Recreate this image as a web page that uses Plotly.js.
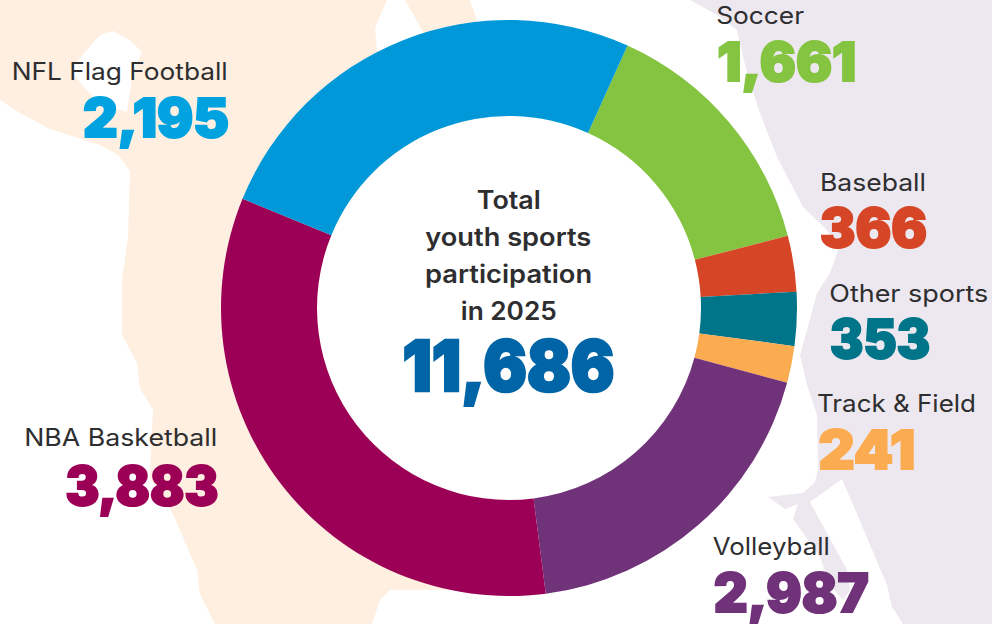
<!DOCTYPE html>
<html><head><meta charset="utf-8">
<script src="https://cdn.plot.ly/plotly-3.0.1.min.js"></script>
<style>html,body{margin:0;padding:0;background:#fff}#c{width:992px;height:624px}</style>
</head><body><div id="c"></div>
<script>
const categories = ["Soccer","Baseball","Other sports","Track & Field","Volleyball","NBA Basketball","NFL Flag Football"];
// printed figures
const printedValues = [1661,366,353,241,2987,3883,2195];
// the ring as drawn in the picture: its Volleyball and NFL Flag Football arcs are swapped against the printed figures
const arcValues = [1661,366,353,241,2195,3883,2987];
const sliceColors = ["#84c441","#d64626","#00758a","#fbab50","#703278","#9c0056","#0098d8"];
const numberColors = ["#84c441","#d64626","#00758a","#fbab50","#703278","#9c0056","#00a3e0"];
const centerLines = ["Total","youth sports","participation","in 2025"];
const totalValue = 11686;
const labelLeft = [716,820,829,817,713,24,11];
const labelW = [88,106,159,159,117,193,216];
const labelY = [15,182,293,403,546,438,71];
const numberLeft = [717,820,830,818,713,65,83];
const numberW = [139,107,100,97,155,153,146];
const numberY = [62,228,339,450,593,486,118];
const centerW = [64,166,167,96];
const centerY = [200,237,274,311];
const W=992,H=624,CX=509,CY=308,R=288,r=192;
const px=x=>x/W, py=y=>1-y/H;
const peach=[[0,0],[387,0],[375,28],[378,60],[430,60],[423,32],[405,0],[470,0],[480,30],[480,590],[390,590],[380,600],[372,624],[215,624],[200,594],[197,570],[173,514],[150,478],[153,410],[140,388],[137,363],[122,335],[122,279],[128,239],[130,171],[118,155],[100,145],[50,129],[20,113],[0,100]];
const lake=[[113,31],[100,35],[90,46],[70,70],[83,86],[100,104],[127,112],[133,72],[142,52],[130,40]];
const lav=[[690,0],[717,15],[737,30],[748,77],[760,113],[777,157],[803,207],[827,230],[838,250],[830,273],[817,293],[812,312],[800,355],[807,385],[817,415],[818,469],[815,482],[803,493],[768,497],[785,509],[798,504],[793,519],[820,557],[830,585],[843,600],[850,590],[847,570],[810,502],[842,479],[887,585],[892,607],[903,624],[992,624],[992,0]];
const toPath=p=>"M"+p.map(a=>px(a[0]).toFixed(4)+","+py(a[1]).toFixed(4)).join("L")+"Z";
const shape=(p,c)=>({type:"path",xref:"paper",yref:"paper",path:toPath(p),fillcolor:c,line:{width:0},layer:"below"});
const shapes=[shape(peach,"#feefe0"),shape(lake,"#ffffff"),shape(lav,"#ede8ef"),
 {type:"circle",xref:"paper",yref:"paper",x0:px(CX-r),x1:px(CX+r),y0:py(CY+r),y1:py(CY-r),fillcolor:"#fff",line:{width:0},layer:"below"}];
const ann=[], widths=[], strokes=[];
const F="Inter, sans-serif";
function add(text,x,y,w,font,stroke){
 ann.push({text:text,x:px(x),y:py(y),xref:"paper",yref:"paper",xanchor:"center",yanchor:"middle",showarrow:false,font:font});
 widths.push(w);strokes.push(stroke);
}
categories.forEach((c,i)=>{
 add(c,labelLeft[i]+labelW[i]/2,labelY[i],labelW[i],{family:F,size:24,color:"#2e2e30"},0);
 add(printedValues[i].toLocaleString("en-US"),numberLeft[i]+numberW[i]/2,numberY[i],numberW[i],{family:F,size:53,weight:900,color:numberColors[i]},2);
});
centerLines.forEach((t,i)=>add(t,CX,centerY[i],centerW[i],{family:F,size:25,weight:600,color:"#2e2e30"},0));
add(totalValue.toLocaleString("en-US"),CX,365,212,{family:F,size:70,weight:900,color:"#0065a6"},2.6);
const trace={type:"pie",labels:categories,values:arcValues,sort:false,direction:"clockwise",rotation:24.3,hole:r/R,
 marker:{colors:sliceColors,line:{width:0}},textinfo:"none",hoverinfo:"label",showlegend:false,
 domain:{x:[px(CX-R),px(CX+R)],y:[py(CY+R),py(CY-R)]}};
Plotly.newPlot("c",[trace],{width:W,height:H,margin:{l:0,r:0,t:0,b:0},paper_bgcolor:"#fff",showlegend:false,shapes:shapes,annotations:ann},{displayModeBar:false,staticPlot:true}).then(()=>{
 document.querySelectorAll(".annotation-text").forEach((t,i)=>{
  t.setAttribute("textLength",widths[i]);t.setAttribute("lengthAdjust","spacingAndGlyphs");
  if(strokes[i]){t.style.stroke=t.style.fill;t.style.strokeWidth=strokes[i]+"px";t.style.strokeLinejoin="miter";}
 });
});
</script></body></html>
